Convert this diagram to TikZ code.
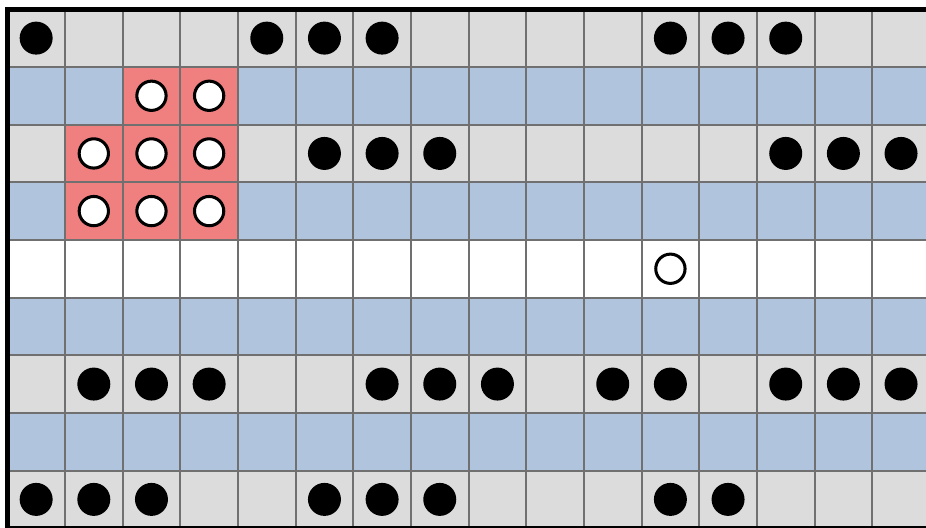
\documentclass[tikz,border=0pt]{standalone}
\usetikzlibrary{calc}
\definecolor{cellgray}{HTML}{DCDCDC}
\definecolor{cellblue}{HTML}{B0C4DE}
\definecolor{cellred}{HTML}{F08080}
\definecolor{gridline}{HTML}{707070}

\begin{document}
\begin{tikzpicture}[y=-1cm,
  stone/.style={fill=black},
  hole/.style={fill=white, draw=black, line width=1.5pt}]

% Frame of the visible part
\useasboundingbox (-0.127,-0.161) rectangle (15.933,8.996);
\begin{scope}
\clip (-0.127,-0.161) rectangle (15.933,8.996);

% Row colours
\foreach \r/\c in {0/cellgray,1/cellblue,2/cellgray,3/cellblue,4/white,
                   5/cellblue,6/cellgray,7/cellblue,8/cellgray}
  \fill[\c] (0,\r) rectangle (16,\r+1);

% Red block
\fill[cellred] (2,1) rectangle (4,2);
\fill[cellred] (1,2) rectangle (4,4);

% Grid lines
\draw[gridline, line width=1pt] (0,0) grid (16,9);

% Outer border (top, left, bottom)
\draw[black, line width=2.4pt] (16.5,0) -- (0,0) -- (0,9) -- (16.5,9);

% Black stones
\foreach \y/\xs in {0/{0,4,5,6,11,12,13}, 2/{5,6,7,13,14,15},
                    6/{1,2,3,6,7,8,10,11,13,14,15}, 8/{0,1,2,5,6,7,11,12}}
  \foreach \x in \xs
    \fill[stone] (\x+0.5,\y+0.5) circle (0.286);

% White holes
\foreach \y/\xs in {1/{2,3}, 2/{1,2,3}, 3/{1,2,3}, 4/{11}}
  \foreach \x in \xs
    \draw[hole] (\x+0.5,\y+0.5) circle (0.254);
\end{scope}

\end{tikzpicture}
\end{document}
